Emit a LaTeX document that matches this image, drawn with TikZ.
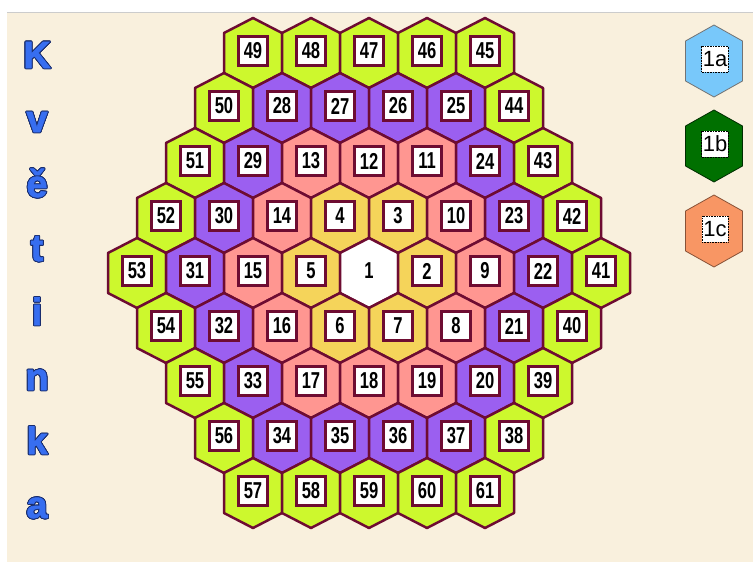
\documentclass[tikz,border=0pt]{standalone}
\usepackage{fontspec}
\setmainfont{Liberation Sans}
\newfontfamily\numfont[FakeStretch=0.72]{Liberation Sans}
\newfontfamily\titlefont[FakeBold=1.5]{Liberation Sans}
\usepackage[copies]{contour}
\usetikzlibrary{positioning}
\definecolor{hexline}{RGB}{110,12,50}
\definecolor{hexlime}{RGB}{205,248,45}
\definecolor{hexpurple}{RGB}{155,95,240}
\definecolor{hexsalmon}{RGB}{255,150,145}
\definecolor{hexgold}{RGB}{245,212,90}
\definecolor{paper}{RGB}{249,240,221}
\definecolor{letterblue}{RGB}{55,110,240}
\definecolor{letterline}{RGB}{25,45,110}
\definecolor{legblue}{RGB}{120,200,250}
\definecolor{leggreen}{RGB}{0,112,0}
\definecolor{legorange}{RGB}{248,150,100}
\contourlength{0.9pt}
\newcommand{\outl}[1]{\contour{letterline}{\textcolor{letterblue}{#1}}}
\tikzset{
  cell/.style={draw=hexline,line width=2.5pt,line join=round},
  numbox/.style={draw=hexline,line width=2.3pt,fill=white,minimum width=29pt,minimum height=29pt,inner sep=1pt,font=\numfont\bfseries\fontsize{23}{23}\selectfont},
  legcell/.style={line width=0.8pt,line join=round},
  legbox/.style={draw,densely dotted,line width=0.6pt,fill=white,minimum width=26pt,minimum height=26pt,inner sep=1pt,font=\fontsize{22}{22}\selectfont},
  letter/.style={anchor=base,font=\titlefont\bfseries\fontsize{38}{38}\selectfont}
}

\begin{document}
\begin{tikzpicture}[x=1pt,y=-1pt]
\useasboundingbox (0,0) rectangle (753,562);
% background
\fill[white] (0,0) rectangle (753,562);
\fill[paper] (7,13) rectangle (753,562);
\draw[black!20,line width=1.5pt] (7,12.5) -- (753,12.5);
% board
\foreach \r/\row in {-4/{49,48,47,46,45},-3/{50,28,27,26,25,44},-2/{51,29,13,12,11,24,43},
  -1/{52,30,14,4,3,10,23,42},0/{53,31,15,5,1,2,9,22,41},1/{54,32,16,6,7,8,21,40},
  2/{55,33,17,18,19,20,39},3/{56,34,35,36,37,38},4/{57,58,59,60,61}}{
  \foreach \n [count=\i from 0] in \row {
    \pgfmathsetmacro\x{369-(8-abs(\r))*29+58*\i}
    \pgfmathsetmacro\y{273+55*\r}
    \ifnum\n<2 \def\hc{white}\else\ifnum\n<8 \def\hc{hexgold}\else
      \ifnum\n<20 \def\hc{hexsalmon}\else\ifnum\n<38 \def\hc{hexpurple}\else
      \def\hc{hexlime}\fi\fi\fi\fi
    \draw[cell,fill=\hc] (\x,\y) +(0,-35) -- +(29,-20) -- +(29,20) -- +(0,35)
      -- +(-29,20) -- +(-29,-20) -- cycle;
    \ifnum\n=1
      \node[font=\numfont\bfseries\fontsize{23}{23}\selectfont] (n1) at (\x,{\y-2}) {1};
    \else
      \node[numbox] (n\n) at (\x,{\y-2}) {\n};
    \fi
  }
}
% legend
\foreach \k/\fc/\dc/\yy in {a/legblue/black!55/61,b/leggreen/black!60!leggreen/146,c/legorange/black!45!legorange/231}{
  \draw[legcell,fill=\fc,draw=\dc] (714,\yy) +(0,-36) -- +(28.5,-20) -- +(28.5,20) -- +(0,36)
    -- +(-28.5,20) -- +(-28.5,-20) -- cycle;
  \node[legbox] (leg\k) at (715,{\yy-2}) {1\k};
}
% title letters
\node[letter] (l1) at (37,68) {\outl{K}};
\node[letter] (l2) at (37,132) {\outl{v}};
\node[letter] (l3) at (37,197) {\outl{ě}};
\node[letter] (l4) at (37,261) {\outl{t}};
\node[letter] (l5) at (37,325) {\outl{i}};
\node[letter] (l6) at (37,390) {\outl{n}};
\node[letter] (l7) at (37,454) {\outl{k}};
\node[letter] (l8) at (37,518) {\outl{a}};
\end{tikzpicture}
\end{document}
